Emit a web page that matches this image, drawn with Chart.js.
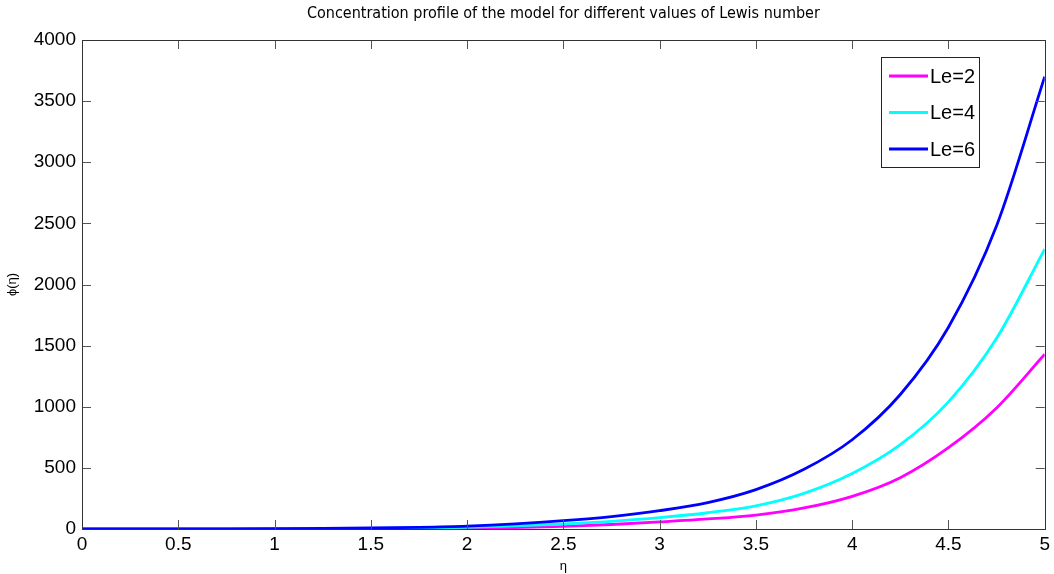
<!DOCTYPE html>
<html lang="en">
<head>
<meta charset="UTF-8">
<meta name="viewport" content="width=device-width, initial-scale=1.0">
<title>Concentration profile</title>
<script src="https://cdn.jsdelivr.net/npm/chart.js"></script>
<style>
  html, body { margin: 0; padding: 0; background: #fff; }
  #wrap { width: 1054px; height: 574px; position: relative; }
</style>
</head>
<body>
<div id="wrap"><canvas id="myChart"></canvas></div>
<script>
// values (eta step 0.25)
const etaValues = [0, 0.25, 0.5, 0.75, 1, 1.25, 1.5, 1.75, 2, 2.25, 2.5, 2.75, 3, 3.25, 3.5, 3.75, 4, 4.25, 4.5, 4.75, 5];
const le2Values = [0, 0, 0.1, 0.2, 0.5, 1, 1.5, 3, 6, 12, 22, 37, 58, 82, 114, 172, 267, 420, 665, 990, 1430];
const le4Values = [0, 0.05, 0.2, 0.5, 1, 2, 4, 8, 14, 25, 41, 63, 93, 133, 190, 292, 454, 690, 1040, 1560, 2290];
const le6Values = [0, 0.1, 0.3, 0.8, 2, 4, 8, 14, 24, 42, 68, 102, 150, 216, 322, 488, 730, 1100, 1650, 2480, 3700];

const seriesLabels = ['Le=2', 'Le=4', 'Le=6'];
const seriesColors = ['#ff00ff', '#00ffff', '#0000ff'];

const xTickValues = [0, 0.5, 1, 1.5, 2, 2.5, 3, 3.5, 4, 4.5, 5];
const yTickValues = [0, 500, 1000, 1500, 2000, 2500, 3000, 3500, 4000];

const titleText = 'Concentration profile of the model for different values of Lewis number';

function toPoints(ys) {
    return etaValues.map((e, i) => ({ x: e, y: ys[i] }));
}

// matlab style: box, inward ticks on all four sides, title, legend inside the axes
const matlabFrame = {
    id: 'matlabFrame',
    afterDatasetsDraw(chart) {
        const { ctx, chartArea: a, scales } = chart;
        const x = scales.x, y = scales.y;
        ctx.save();

        // ticks
        ctx.strokeStyle = '#555';
        ctx.lineWidth = 1;
        ctx.beginPath();
        xTickValues.forEach(v => {
            const px = Math.round(x.getPixelForValue(v)) + 0.5;
            ctx.moveTo(px, a.bottom); ctx.lineTo(px, a.bottom - 9);
            ctx.moveTo(px, a.top); ctx.lineTo(px, a.top + 9);
        });
        yTickValues.forEach(v => {
            const py = Math.round(y.getPixelForValue(v)) + 0.5;
            ctx.moveTo(a.left, py); ctx.lineTo(a.left + 9, py);
            ctx.moveTo(a.right, py); ctx.lineTo(a.right - 9, py);
        });
        ctx.stroke();

        // box
        ctx.strokeStyle = '#333';
        ctx.strokeRect(Math.round(a.left) + 0.5, Math.round(a.top) + 0.5,
            Math.round(a.right - a.left), Math.round(a.bottom - a.top));

        // title
        ctx.fillStyle = '#000';
        ctx.font = '16px "Liberation Sans Narrow", "DejaVu Sans Condensed", sans-serif';
        ctx.textAlign = 'center';
        ctx.textBaseline = 'middle';
        ctx.fillText(titleText, (a.left + a.right) / 2, 14);

        // legend
        const lx = 881, ly = 57, lw = 98, lh = 110;
        ctx.fillStyle = '#fff';
        ctx.fillRect(lx, ly, lw, lh);
        ctx.strokeStyle = '#222';
        ctx.strokeRect(lx + 0.5, ly + 0.5, lw, lh);
        ctx.font = '20px "Liberation Sans", Arial, sans-serif';
        ctx.textAlign = 'left';
        chart.data.datasets.forEach((ds, i) => {
            const cy = ly + 19 + i * 36.5;
            ctx.strokeStyle = ds.borderColor;
            ctx.lineWidth = 2.8;
            ctx.beginPath();
            ctx.moveTo(lx + 8, cy); ctx.lineTo(lx + 47, cy);
            ctx.stroke();
            ctx.fillStyle = '#000';
            ctx.fillText(ds.label, lx + 49, cy + 1);
        });
        ctx.restore();
    }
};

const ctx = document.querySelector('#myChart');

const profileChart = new Chart(ctx, {
    type: 'line',
    data: {
        datasets: [
            { label: seriesLabels[0], data: toPoints(le2Values), borderColor: seriesColors[0], order: 2 },
            { label: seriesLabels[1], data: toPoints(le4Values), borderColor: seriesColors[1], order: 1 },
            { label: seriesLabels[2], data: toPoints(le6Values), borderColor: seriesColors[2], order: 0 }
        ]
    },
    options: {
        responsive: true,
        maintainAspectRatio: false,
        animation: false,
        layout: { padding: { left: 0, right: 7, top: 40, bottom: 0 } },
        elements: {
            line: { borderWidth: 2.8, cubicInterpolationMode: 'monotone', fill: false },
            point: { radius: 0 }
        },
        plugins: {
            legend: { display: false },
            tooltip: { enabled: false },
            title: { display: false }
        },
        scales: {
            x: {
                type: 'linear',
                min: 0, max: 5,
                grid: { display: false, drawTicks: false },
                border: { display: false },
                afterBuildTicks: s => { s.ticks = xTickValues.map(v => ({ value: v })); },
                afterFit: s => { s.height = 45; },
                ticks: {
                    autoSkip: false, maxRotation: 0, padding: 4, color: '#000',
                    font: { family: '"Liberation Sans", Arial, sans-serif', size: 19 },
                    callback: v => String(v)
                },
                title: {
                    display: true, text: 'η', color: '#000',
                    font: { family: '"Liberation Sans", Arial, sans-serif', size: 13 },
                    padding: { top: 3, bottom: 0 }
                }
            },
            y: {
                type: 'linear',
                min: 0, max: 4000,
                grid: { display: false, drawTicks: false },
                border: { display: false },
                afterBuildTicks: s => { s.ticks = yTickValues.map(v => ({ value: v })); },
                afterFit: s => { s.width = 82; },
                ticks: {
                    autoSkip: false, padding: 6, color: '#000',
                    font: { family: '"Liberation Sans", Arial, sans-serif', size: 19 },
                    callback: v => String(v)
                },
                title: {
                    display: true, text: 'ϕ(η)', color: '#000',
                    font: { family: '"Liberation Sans", Arial, sans-serif', size: 13 },
                    padding: { top: 5, bottom: 0 }
                }
            }
        }
    },
    plugins: [matlabFrame]
});
</script>
</body>
</html>
